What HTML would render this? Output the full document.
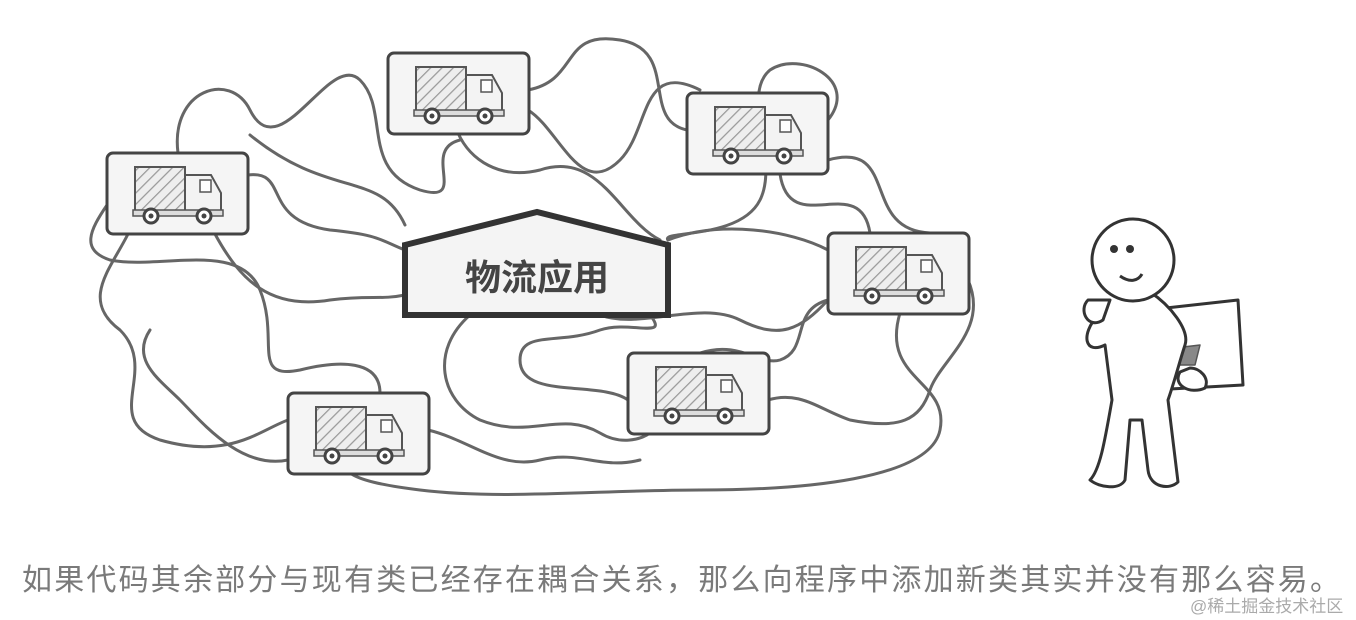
<!DOCTYPE html>
<html><head><meta charset="utf-8"><style>
body{margin:0;background:#fff;width:1356px;height:620px;overflow:hidden;position:relative;font-family:"Liberation Sans","Noto Sans CJK SC",sans-serif}
.cap{position:absolute;left:22px;top:555px;font-size:30px;color:#7a7a7a;white-space:nowrap;letter-spacing:2.2px}
.wm{position:absolute;left:1190px;top:592px;font-size:17px;color:#aaa;white-space:nowrap}
</style></head><body>
<svg width="1356" height="620" style="position:absolute;left:0;top:0">
<defs>
<pattern id="h" width="8" height="8" patternUnits="userSpaceOnUse" patternTransform="rotate(45)"><rect width="8" height="8" fill="#eee"/><line x1="0" y1="0" x2="0" y2="8" stroke="#999" stroke-width="2.5"/></pattern>
<g id="t">
<rect x="0" y="0" width="141" height="81" rx="6" fill="#f5f5f5" stroke="#444" stroke-width="3"/>
<rect x="28" y="14" width="50" height="44" fill="url(#h)" stroke="#555" stroke-width="2"/>
<path d="M78 22 H104 L114 40 V59 H78 Z" fill="#f3f3f3" stroke="#555" stroke-width="2"/>
<rect x="93" y="27" width="11" height="12" fill="#fff" stroke="#555" stroke-width="1.5"/>
<rect x="26" y="57" width="90" height="6" fill="#ddd" stroke="#555" stroke-width="1.5"/>
<circle cx="44" cy="63" r="7" fill="#fff" stroke="#444" stroke-width="3"/><circle cx="44" cy="63" r="2.5" fill="#444"/>
<circle cx="97" cy="63" r="7" fill="#fff" stroke="#444" stroke-width="3"/><circle cx="97" cy="63" r="2.5" fill="#444"/>
</g>
</defs>
<g fill="none" stroke="#666" stroke-width="3" stroke-linecap="round">
<path d="M178 153 C170 90 230 70 250 110 C280 170 330 50 360 80 C390 110 360 170 420 190 C470 205 420 150 460 140"/>
<path d="M248 175 C290 170 260 220 330 230 C380 235 380 240 405 250"/>
<path d="M250 135 C330 200 380 170 405 225"/>
<path d="M128 234 C110 270 80 300 120 330 C160 370 100 420 160 440 C230 460 260 430 288 420"/>
<path d="M107 205 C90 230 80 250 110 260 C160 270 240 240 260 290 C280 340 250 380 300 370 C340 360 380 360 380 393"/>
<path d="M215 234 C240 280 270 310 330 300 C370 295 380 300 405 295"/>
<path d="M458 133 C470 160 500 180 540 170 C600 150 620 220 660 240"/>
<path d="M528 90 C580 80 560 30 620 40 C680 50 640 120 687 130"/>
<path d="M528 110 C560 130 580 200 620 160 C650 130 640 60 700 90"/>
<path d="M828 120 C860 80 800 50 770 70 C740 95 780 160 760 200 C740 240 660 230 668 240"/>
<path d="M780 174 C790 240 860 170 870 233"/>
<path d="M828 160 C900 140 860 230 930 233"/>
<path d="M668 240 C720 220 790 230 828 250"/>
<path d="M968 280 C990 330 940 360 930 390 C920 420 900 430 850 420 C820 410 800 390 768 400"/>
<path d="M900 313 C880 380 950 380 940 430 C930 480 800 490 700 490 C600 490 500 500 420 490 C380 485 360 480 350 473"/>
<path d="M828 300 C790 310 810 350 780 360 C760 366 740 340 700 353"/>
<path d="M650 315 C670 340 630 320 600 330 C560 345 520 330 520 360 C520 400 600 380 628 400"/>
<path d="M470 315 C430 350 440 400 480 420 C530 440 560 410 600 433 C620 445 640 440 650 433"/>
<path d="M428 430 C470 440 500 470 540 460 C580 450 600 470 640 460"/>
<path d="M288 460 C240 470 200 420 180 400 C160 380 130 360 150 330"/>
<path d="M600 315 C640 330 700 300 740 320 C780 340 800 330 828 300"/>
</g>
<use href="#t" x="107" y="153"/>
<use href="#t" x="388" y="53"/>
<use href="#t" x="687" y="93"/>
<use href="#t" x="828" y="233"/>
<use href="#t" x="628" y="353"/>
<use href="#t" x="288" y="393"/>
<path d="M405 245 L537 212 L668 245 V315 H405 Z" fill="#f4f4f4" stroke="#333" stroke-width="6" stroke-linejoin="miter"/>
<text x="537" y="290" font-size="36" font-weight="bold" text-anchor="middle" fill="#444" font-family="Liberation Sans,Noto Sans CJK SC,sans-serif">物流应用</text>
<g fill="#fff" stroke="#333" stroke-width="3" stroke-linejoin="round">
<path d="M1148 310 L1238 300 L1243 385 L1152 390 Z"/>
<path d="M1158 350 L1200 345 L1195 365 L1160 365 Z" fill="#888" stroke="#555" stroke-width="1.5"/>
<path d="M1098 315 C1080 335 1085 355 1105 345 L1112 400 C1105 440 1100 470 1090 480 C1100 488 1120 490 1125 480 L1130 420 L1142 420 L1148 470 C1150 488 1170 490 1178 482 L1168 400 C1175 380 1180 360 1185 345 C1190 330 1170 305 1150 292"/>
<circle cx="1133" cy="260" r="41"/>
<path d="M1088 300 C1078 310 1088 330 1103 320 L1110 300 Z"/>
<path d="M1180 372 C1172 385 1190 395 1205 388 C1210 378 1200 368 1190 368 Z"/>
</g>
<circle cx="1114" cy="249" r="4" fill="#333"/><circle cx="1130" cy="249" r="4" fill="#333"/>
<path d="M1120 276 C1130 283 1138 281 1142 274" fill="none" stroke="#333" stroke-width="3"/>
</svg>
<div class="cap">如果代码其余部分与现有类已经存在耦合关系，那么向程序中添加新类其实并没有那么容易。</div>
<div class="wm">@稀土掘金技术社区</div>
</body></html>
